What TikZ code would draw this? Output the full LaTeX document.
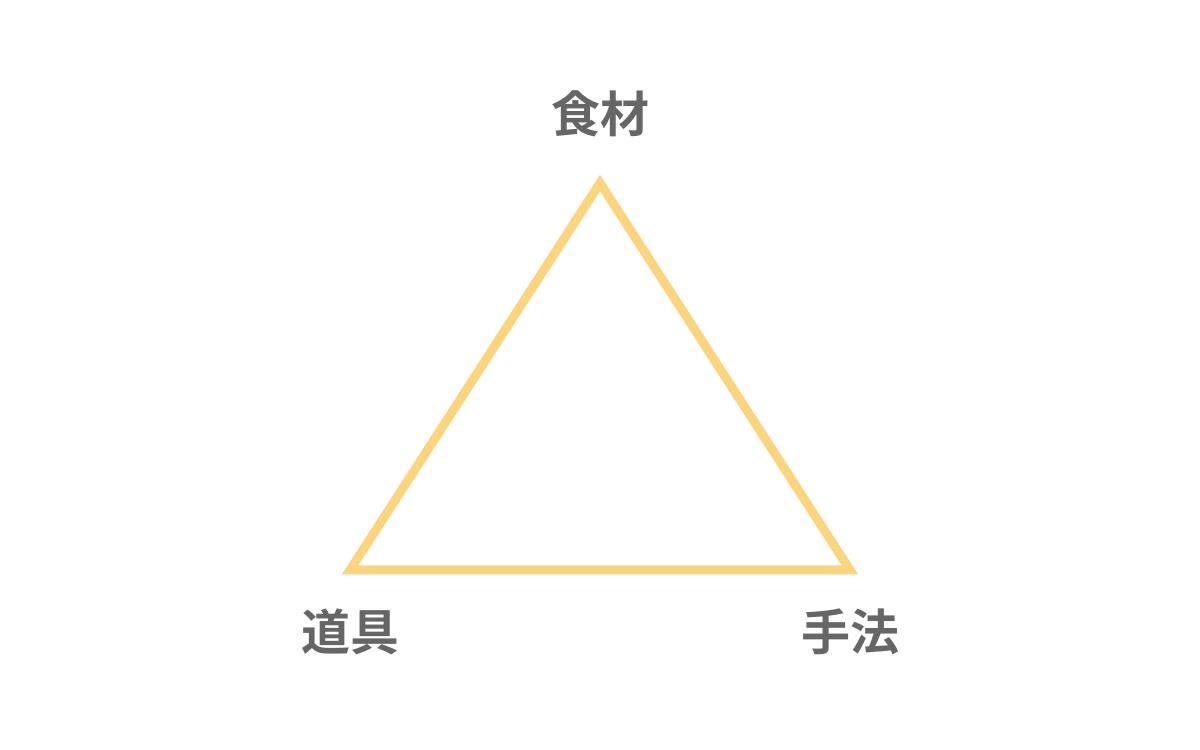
\documentclass[tikz,border=0pt]{standalone}
\usepackage{fontspec}
\usepackage{xcolor}
\newfontfamily\cjk{Noto Sans CJK JP}[BoldFont={* Bold}]
\definecolor{edgeyellow}{RGB}{250,212,126}
\definecolor{labelgray}{RGB}{102,102,102}
\tikzset{
	corner label/.style={font=\cjk\bfseries\fontsize{24.5}{24.5}\selectfont,text=labelgray,inner sep=0pt},
	side/.style={draw=edgeyellow,line width=4.5pt,line join=miter}
}

\begin{document}
\begin{tikzpicture}[x=1pt,y=1pt]
	\useasboundingbox (0,0) rectangle (600,375);

	\coordinate (top) at (300,283.5);
	\coordinate (left) at (175,90);
	\coordinate (right) at (425,90);
	\draw[side] (top) -- (left) -- (right) -- cycle;

	\node[corner label] (ingredients) at (300,318) {食材};
	\node[corner label] (tools) at (175,59) {道具};
	\node[corner label] (methods) at (425,59) {手法};
\end{tikzpicture}
\end{document}
